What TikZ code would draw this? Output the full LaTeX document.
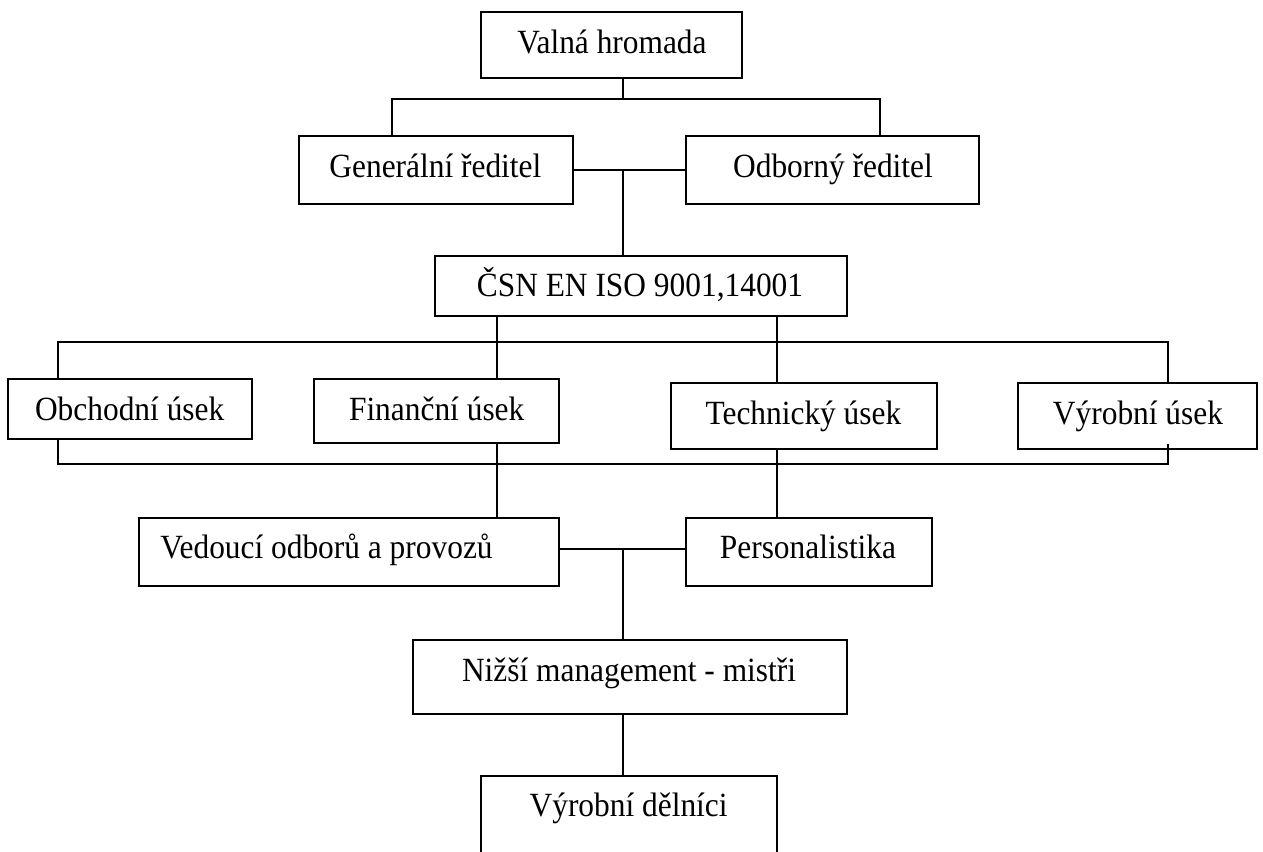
\documentclass[tikz,border=0pt]{standalone}
\usepackage{fontspec}
\usepackage{graphicx}
\setmainfont{Liberation Serif}
\usetikzlibrary{fit,calc}
\newcommand{\tallt}[1]{\scalebox{1}[1.08]{#1}}
\tikzset{
  orgbox/.style={draw=black, line width=1pt, inner sep=0pt, rectangle},
  orgtxt/.style={anchor=base, inner sep=0pt, font=\fontsize{15.7}{18}\selectfont},
  link/.style={draw=black, line width=1pt}
}
\begin{document}
\begin{tikzpicture}[x=0.5pt, y=-0.5pt]
\useasboundingbox (0,0) rectangle (1263,851);
\clip (0,0) rectangle (1263,851);
% boxes
\node[orgbox, fit={(480.7,11.7) (741.7,77.7)}] (vh) {};
\node[orgbox, fit={(299,135.7) (573.3,204)}] (gen) {};
\node[orgbox, fit={(685.7,135.7) (979,204)}] (odb) {};
\node[orgbox, fit={(435,255.7) (847,316)}] (iso) {};
\node[orgbox, fit={(8.3,379.3) (251.7,439)}] (obch) {};
\node[orgbox, fit={(314,379.3) (559,442.7)}] (fin) {};
\node[orgbox, fit={(671,382.7) (936.7,449)}] (tech) {};
\node[orgbox, fit={(1018.3,382.7) (1257.3,449)}] (vyr) {};
\node[orgbox, fit={(138.7,517.7) (559,585.5)}] (ved) {};
\node[orgbox, fit={(685.7,517.7) (932,585.5)}] (pers) {};
\node[orgbox, fit={(412.7,640) (847,714)}] (niz) {};
\node[orgbox, fit={(481,775.7) (777,880)}] (del) {};
% texts
\node[orgtxt] (vh-t) at (612,53.3) {\tallt{Valná hromada}};
\node[orgtxt] (gen-t) at (435.4,177.3) {\tallt{Generální ředitel}};
\node[orgtxt] (odb-t) at (833,177.3) {\tallt{Odborný ředitel}};
\node[orgtxt] (iso-t) at (640,296.7) {\tallt{ČSN EN ISO 9001,14001}};
\node[orgtxt] (obch-t) at (129.7,420.7) {\tallt{Obchodní úsek}};
\node[orgtxt] (fin-t) at (436.7,420.5) {\tallt{Finanční úsek}};
\node[orgtxt] (tech-t) at (803.4,424) {\tallt{Technický úsek}};
\node[orgtxt] (vyr-t) at (1138,424) {\tallt{Výrobní úsek}};
\node[orgtxt, anchor=base west] (ved-t) at (160,558.3) {\tallt{Vedoucí odborů a provozů}};
\node[orgtxt] (pers-t) at (808,558.3) {\tallt{Personalistika}};
\node[orgtxt] (niz-t) at (629,681.7) {\tallt{Nižší management - mistři}};
\node[orgtxt] (del-t) at (628.6,816.7) {\tallt{Výrobní dělníci}};
% junction coordinates
\coordinate (j1) at (623.3,98.7);
\coordinate (bl1) at (391.7,98.7);
\coordinate (br1) at (879.5,98.7);
\coordinate (j2) at (623.3,170);
\coordinate (tl) at (58.3,341.7);
\coordinate (tr) at (1168.3,341.7);
\coordinate (bl) at (58.3,463.5);
\coordinate (br) at (1168.3,463.5);
\coordinate (xf) at (496.7,0);
\coordinate (xt) at (777,0);
\coordinate (j3) at (623.3,549);
% connectors
\draw[link] (vh.south -| j1) -- (j1);
\draw[link] (gen.north -| bl1) -- (bl1) -- (br1) -- (odb.north -| br1);
\draw[link] (gen.east |- j2) -- (odb.west |- j2);
\draw[link] (j2) -- (iso.north -| j2);
\draw[link] (iso.south -| xf) -- (fin.north -| xf);
\draw[link] (iso.south -| xt) -- (tech.north -| xt);
\draw[link] (obch.north -| tl) -- (tl) -- (tr) -- (vyr.north -| tr);
\draw[link] (obch.south -| bl) -- (bl) -- (br) -- ($(vyr.south -| br)+(0,-6)$);
\draw[link] (fin.south -| xf) -- (ved.north -| xf);
\draw[link] (tech.south -| xt) -- (pers.north -| xt);
\draw[link] (ved.east |- j3) -- (pers.west |- j3);
\draw[link] (j3) -- (niz.north -| j3);
\draw[link] (niz.south -| j3) -- (del.north -| j3);
\end{tikzpicture}
\end{document}
